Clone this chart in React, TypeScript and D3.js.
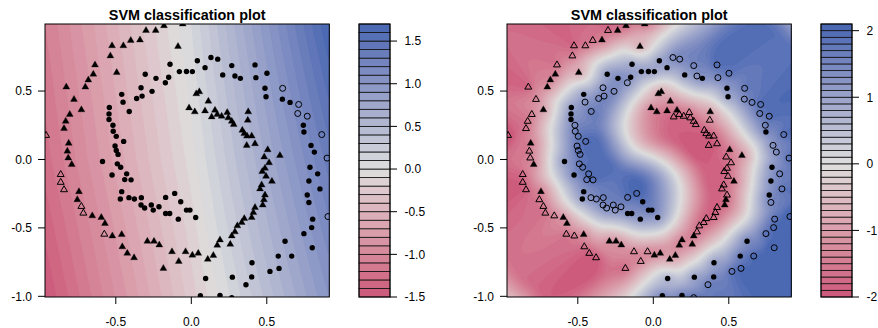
import React, { useMemo } from 'react';
import * as d3 from 'd3';

const W = 878, H = 328;
const plotLeft = 45, plotRight = 329.3, plotTop = 24, plotBottom = 297;
const keyLeft = 359, keyRight = 390;
const panelShift = 462;

const xDomain = [-0.969, 0.914];
const yDomain = [-1.005, 0.99];
const xTicks = [-0.5, 0, 0.5];
const xTickLabels = ['-0.5', '0.0', '0.5'];
const yTicks = [-1, -0.5, 0, 0.5];
const yTickLabels = ['-1.0', '-0.5', '0.0', '0.5'];

// class "triangle" points
const triX = [-0.30, -0.236, -0.181, -0.057, -0.401, -0.34, -0.45, -0.525, -0.088, -0.536,
  -0.638, -0.649, -0.494, -0.682, -0.702, -0.828, -0.777, -0.728, -0.805, -0.832,
  -0.843, -0.962, -0.812, -0.821, -0.815, -0.792, -0.865, -0.865, -0.843, -0.744,
  -0.755, -0.728, -0.715, -0.656, -0.596, -0.572, -0.576, -0.523, -0.461, -0.457,
  -0.424, -0.379, -0.291, -0.247, -0.212, -0.185, -0.128, -0.083, -0.038, 0.007,
  0.046, 0.109, 0.146, 0.172, 0.19, 0.258, 0.268, 0.289, 0.305, 0.334,
  0.351, 0.40, 0.411, 0.422, 0.473, 0.481, 0.488, 0.455, 0.466, 0.534,
  0.495, 0.470, 0.488, 0.515, 0.483, 0.587, 0.506, 0.422, 0.367, 0.40,
  0.369, 0.351, 0.338, 0.374, 0.377, 0.281, 0.268, 0.245, 0.238, 0.201,
  0.172, 0.157, 0.135, 0.091, 0.023, -0.015, 0.113, 0.053, 0.033];
const triY = [0.943, 0.943, 0.978, 0.99, 0.87, 0.873, 0.831, 0.831, 0.826, 0.757,
  0.691, 0.623, 0.635, 0.581, 0.529, 0.529, 0.439, 0.363, 0.329, 0.279,
  0.226, 0.176, 0.118, 0.061, 0.011, -0.037, -0.110, -0.167, -0.221, -0.235,
  -0.294, -0.343, -0.392, -0.412, -0.424, -0.468, -0.546, -0.559, -0.549, -0.638,
  -0.686, -0.718, -0.598, -0.598, -0.625, -0.796, -0.674, -0.745, -0.674, -0.699,
  -0.686, -0.730, -0.701, -0.627, -0.588, -0.620, -0.559, -0.529, -0.485, -0.461,
  -0.432, -0.424, -0.388, -0.351, -0.333, -0.294, -0.260, -0.215, -0.186, -0.160,
  -0.123, -0.088, -0.064, -0.024, 0.018, 0.029, 0.071, 0.115, 0.103, 0.171,
  0.171, 0.189, 0.213, 0.287, 0.348, 0.255, 0.279, 0.304, 0.343, 0.316,
  0.329, 0.360, 0.311, 0.355, 0.348, 0.377, 0.426, 0.495, 0.480];
// 1 = drawn filled (support vector)
const triSvLinear = [1, 1, 1, 1, 1, 1, 1, 1, 1, 1, 1, 1, 1, 1, 1, 1, 1, 1, 1, 1,
  1, 0, 1, 1, 1, 1, 0, 0, 0, 1, 1, 0, 0, 1, 1, 1, 0, 1, 1, 1,
  1, 1, 1, 1, 1, 1, 1, 1, 1, 1, 1, 1, 1, 1, 1, 1, 1, 1, 1, 1,
  1, 1, 1, 1, 1, 1, 1, 1, 1, 1, 1, 1, 1, 1, 1, 1, 1, 1, 1, 1,
  1, 1, 1, 1, 1, 1, 1, 1, 1, 1, 1, 1, 1, 1, 1, 1, 1, 1, 1];
const triSvRbf = [0, 1, 1, 1, 0, 1, 0, 0, 1, 0, 0, 1, 1, 1, 1, 0, 0, 1, 0, 0,
  0, 0, 1, 0, 0, 1, 0, 0, 0, 1, 0, 0, 0, 0, 1, 1, 0, 0, 1, 0,
  0, 0, 1, 1, 1, 0, 0, 0, 0, 1, 1, 1, 1, 1, 1, 1, 1, 0, 0, 0,
  0, 0, 0, 0, 1, 1, 0, 0, 0, 1, 0, 0, 0, 0, 0, 1, 1, 0, 0, 0,
  0, 0, 0, 0, 1, 0, 0, 0, 0, 0, 0, 1, 0, 1, 1, 1, 1, 1, 1];

// class "circle" points
const cirX = [-0.141, -0.079, -0.032, 0.007, -0.305, -0.234, -0.150, -0.172, -0.333, -0.26,
  -0.461, -0.326, -0.362, -0.452, -0.543, -0.411, -0.545, -0.545, -0.519, -0.517,
  -0.497, -0.448, -0.505, -0.497, -0.485, -0.588, -0.49, -0.468, -0.525, -0.428,
  -0.441, -0.399, -0.461, -0.47, -0.413, -0.377, -0.331, -0.333, -0.309, -0.265,
  -0.252, -0.214, -0.170, -0.11, -0.07, -0.17, -0.143, -0.086, -0.032, -0.009,
  0.029, 0.04, 0.091, 0.130, 0.175, 0.208, 0.268, 0.289, 0.325, 0.422,
  0.428, 0.501, 0.488, 0.495, 0.605, 0.603, 0.654, 0.711, 0.705, 0.768,
  0.742, 0.746, 0.864, 0.793, 0.815, 0.899, 0.786, 0.837, 0.779, 0.852,
  0.768, 0.779, 0.905, 0.804, 0.797, 0.746, 0.621, 0.801, 0.576, 0.665,
  0.402, 0.581, 0.521, 0.40, 0.362, 0.095, 0.272, 0.06, 0.19, 0.268];
const cirY = [0.696, 0.642, 0.643, 0.642, 0.623, 0.593, 0.601, 0.561, 0.524, 0.498,
  0.476, 0.463, 0.446, 0.419, 0.380, 0.351, 0.333, 0.292, 0.25, 0.206,
  0.169, 0.132, 0.098, 0.066, 0.037, -0.015, -0.032, -0.057, -0.113, -0.105,
  -0.147, -0.149, -0.235, -0.289, -0.279, -0.289, -0.279, -0.333, -0.355, -0.333,
  -0.370, -0.346, -0.277, -0.248, -0.309, -0.395, -0.395, -0.436, -0.370, -0.370,
  -0.424, 0.721, 0.671, 0.745, 0.733, 0.618, 0.686, 0.610, 0.593, 0.691,
  0.598, 0.630, 0.520, 0.458, 0.520, 0.441, 0.417, 0.402, 0.336, 0.316,
  0.25, 0.201, 0.182, 0.103, 0.054, 0.01, -0.057, -0.105, -0.157, -0.215,
  -0.26, -0.314, -0.417, -0.436, -0.498, -0.542, -0.598, -0.645, -0.706, -0.706,
  -0.755, -0.796, -0.818, -0.858, -0.915, -0.87, -0.86, -0.995, -0.993, -1.01];
const cirSvLinear = [1, 1, 1, 1, 1, 1, 1, 1, 1, 1, 1, 1, 1, 1, 1, 1, 1, 1, 1, 1,
  1, 1, 1, 1, 1, 1, 1, 1, 1, 1, 1, 1, 1, 1, 1, 1, 1, 1, 1, 1,
  1, 1, 1, 1, 1, 1, 1, 1, 1, 1, 1, 1, 1, 1, 1, 1, 1, 1, 1, 1,
  1, 1, 1, 1, 0, 1, 1, 0, 0, 0, 1, 1, 0, 1, 1, 0, 1, 1, 1, 1,
  1, 1, 0, 1, 1, 1, 1, 1, 1, 1, 1, 1, 1, 1, 1, 1, 1, 1, 1, 1];
const cirSvRbf = [1, 1, 1, 1, 1, 1, 1, 0, 0, 0, 1, 0, 0, 0, 1, 0, 1, 1, 0, 0,
  0, 0, 0, 0, 0, 1, 0, 0, 1, 0, 0, 0, 1, 1, 0, 0, 0, 0, 0, 0,
  0, 0, 0, 0, 1, 1, 1, 1, 1, 1, 1, 1, 1, 0, 0, 1, 0, 0, 1, 0,
  0, 0, 1, 1, 0, 0, 0, 0, 0, 0, 0, 1, 0, 0, 0, 0, 1, 0, 1, 0,
  1, 0, 0, 0, 0, 0, 1, 0, 1, 0, 1, 0, 0, 1, 0, 1, 1, 1, 1, 0];

const linGridX = [-0.969, 0, 0.914];
const linGridY = [0.99, 0, -1.005];
const linGridZ = [
  [-1.1, 0.1, 1.7],
  [-1.25, -0.05, 1.35],
  [-1.5, -0.25, 1.0],
];

const linLevels = d3.range(-15, 18).map(d => d / 10);
const rbfLevels = d3.range(-20, 22).map(d => d / 10);
const linKeyTicks = [-1.5, -1, -0.5, 0, 0.5, 1, 1.5];
const linKeyLabels = ['-1.5', '-1.0', '-0.5', '0.0', '0.5', '1.0', '1.5'];
const rbfKeyTicks = [-2, -1, 0, 1, 2];
const rbfKeyLabels = ['-2', '-1', '0', '1', '2'];

const redEnd = '#cc587a', midGrey = '#dedede', blueEnd = '#4666b2';
const font = 'Liberation Sans, Arial, Helvetica, sans-serif';

function bandColor(v: number, lo: number, hi: number) {
  if (v < 0) return d3.interpolateLab(midGrey, redEnd)(Math.min(1, v / lo));
  return d3.interpolateLab(midGrey, blueEnd)(Math.min(1, v / hi));
}

function linValue(x: number, y: number) {
  const i = x < linGridX[1] ? 0 : 1;
  const j = y > linGridY[1] ? 0 : 1;
  const tx = Math.max(0, Math.min(1, (x - linGridX[i]) / (linGridX[i + 1] - linGridX[i])));
  const ty = Math.max(0, Math.min(1, (y - linGridY[j]) / (linGridY[j + 1] - linGridY[j])));
  const z = linGridZ;
  const top = z[j][i] * (1 - tx) + z[j][i + 1] * tx;
  const bot = z[j + 1][i] * (1 - tx) + z[j + 1][i + 1] * tx;
  return top * (1 - ty) + bot * ty;
}

// rbf panel: smooth distance to each class, the side nearer to circles is positive
const tau = 0.035;
function softDist(x: number, y: number, px: number[], py: number[]) {
  let m = Infinity;
  const d = px.map((v, i) => {
    const r = Math.hypot(x - v, y - py[i]);
    if (r < m) m = r;
    return r;
  });
  let s = 0;
  for (const r of d) s += Math.exp(-(r - m) / tau);
  return [m - tau * Math.log(s) + tau * Math.log(3), m];
}
function rbfValue(x: number, y: number) {
  const [dc, mc] = softDist(x, y, cirX, cirY);
  const [dt, mt] = softDist(x, y, triX, triY);
  const far = Math.max(0, Math.min(mc, mt) - 0.4);
  const fade = Math.exp(-(far * far) / (2 * 0.13 * 0.13));
  return 6.2 * (dt - dc) * fade;
}

function triPath(cx: number, cy: number, r: number) {
  const h = r * Math.sqrt(3) / 2;
  return `M${cx},${cy - r}L${cx + h},${cy + r / 2}L${cx - h},${cy + r / 2}Z`;
}

function Panel({ dx, fn, levels, keyTicks, keyLabels, triSv, cirSv, id }: any) {
  const x = d3.scaleLinear().domain(xDomain).range([plotLeft + dx, plotRight + dx]);
  const y = d3.scaleLinear().domain(yDomain).range([plotBottom, plotTop]);
  const lo = levels[0], hi = levels[levels.length - 1];
  const key = d3.scaleLinear().domain([lo, hi]).range([plotBottom, plotTop]);

  const bands = useMemo(() => {
    const nx = 142, ny = 137;
    const pw = plotRight - plotLeft, ph = plotBottom - plotTop;
    const vals: number[] = new Array(nx * ny);
    for (let j = 0; j < ny; j++) {
      const yy = y.invert(plotTop + (j + 0.5) * ph / ny);
      for (let i = 0; i < nx; i++) {
        const xx = x.invert(plotLeft + dx + (i + 0.5) * pw / nx);
        vals[j * nx + i] = Math.max(lo + 1e-6, Math.min(hi - 1e-6, fn(xx, yy)));
      }
    }
    const cs = d3.contours().size([nx, ny]).thresholds(levels.slice(0, -1))(vals);
    const path = d3.geoPath(d3.geoTransform({
      point(px: number, py: number) {
        (this as any).stream.point(plotLeft + dx + px * pw / nx, plotTop + py * ph / ny);
      },
    }));
    return cs.map(c => ({ d: path(c as any) || '', fill: bandColor(c.value + 0.05, lo, hi) }));
  }, [dx]);

  const keyBands = levels.slice(0, -1).map((l: number, i: number) => ({
    y0: key(levels[i + 1]), y1: key(l), fill: bandColor(l + 0.05, lo, hi),
  }));

  return (
    <g>
      <defs>
        <clipPath id={`clip-${id}`}>
          <rect x={plotLeft + dx} y={plotTop} width={plotRight - plotLeft} height={plotBottom - plotTop} />
        </clipPath>
      </defs>
      <g clipPath={`url(#clip-${id})`}>
        {bands.map((b, i) => <path key={i} d={b.d} fill={b.fill} stroke={b.fill} strokeWidth={0.3} />)}
        {cirX.map((cx, i) => cirSv[i]
          ? <circle key={'c' + i} cx={x(cx)} cy={y(cirY[i])} r={2.7} fill="#000" />
          : <circle key={'c' + i} cx={x(cx)} cy={y(cirY[i])} r={3} fill="none" stroke="#000" strokeWidth={1} />)}
        {triX.map((tx, i) => <path key={'t' + i} d={triPath(x(tx), y(triY[i]), 4)}
          fill={triSv[i] ? '#000' : 'none'} stroke="#000" strokeWidth={triSv[i] ? 0.3 : 1} />)}
      </g>
      <rect x={plotLeft + dx} y={plotTop} width={plotRight - plotLeft} height={plotBottom - plotTop}
        fill="none" stroke="#000" strokeWidth={1} />
      {xTicks.map((t, i) => (
        <g key={'xt' + i}>
          <line x1={x(t)} x2={x(t)} y1={plotBottom} y2={plotBottom + 7} stroke="#000" />
          <text x={x(t)} y={325.5} fontSize={12} textAnchor="middle" fontFamily={font}>{xTickLabels[i]}</text>
        </g>
      ))}
      {yTicks.map((t, i) => (
        <g key={'yt' + i}>
          <line x1={plotLeft + dx - 7} x2={plotLeft + dx} y1={y(t)} y2={y(t)} stroke="#000" />
          <text x={plotLeft + dx - 13} y={y(t) + 4.3} fontSize={12} textAnchor="end" fontFamily={font}>{yTickLabels[i]}</text>
        </g>
      ))}
      <text x={(plotLeft + plotRight) / 2 + dx} y={19.5} fontSize={14.4} fontWeight="bold" textAnchor="middle"
        fontFamily={font}>SVM classification plot</text>
      {keyBands.map((b: any, i: number) => (
        <rect key={'k' + i} x={keyLeft + dx} y={b.y0} width={keyRight - keyLeft} height={b.y1 - b.y0}
          fill={b.fill} stroke="#111" strokeWidth={0.8} />
      ))}
      <rect x={keyLeft + dx} y={plotTop} width={keyRight - keyLeft} height={plotBottom - plotTop}
        fill="none" stroke="#000" strokeWidth={1} />
      {keyTicks.map((t: number, i: number) => (
        <g key={'kt' + i}>
          <line x1={keyRight + dx} x2={keyRight + dx + 7} y1={key(t)} y2={key(t)} stroke="#000" />
          <text x={keyRight + dx + 14.4} y={key(t) + 4.3} fontSize={12} fontFamily={font}>{keyLabels[i]}</text>
        </g>
      ))}
    </g>
  );
}

export default function App() {
  return (
    <div>
      <style>{`body{margin:0;background:#fff}`}</style>
      <svg width={W} height={H} style={{ display: 'block' }}>
        <rect width={W} height={H} fill="#fff" />
        <Panel id="lin" dx={0} fn={linValue} levels={linLevels} keyTicks={linKeyTicks} keyLabels={linKeyLabels}
          triSv={triSvLinear} cirSv={cirSvLinear} />
        <Panel id="rbf" dx={panelShift} fn={rbfValue} levels={rbfLevels} keyTicks={rbfKeyTicks} keyLabels={rbfKeyLabels}
          triSv={triSvRbf} cirSv={cirSvRbf} />
      </svg>
    </div>
  );
}
